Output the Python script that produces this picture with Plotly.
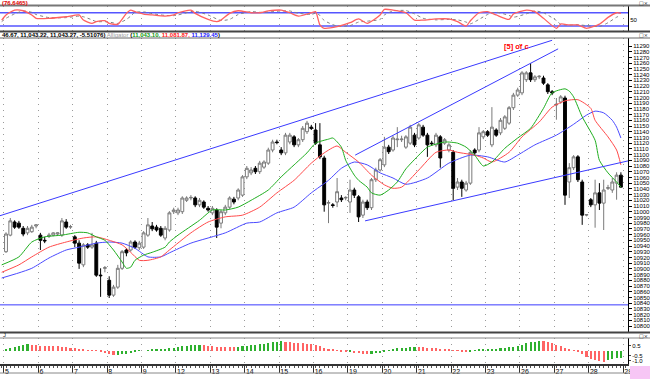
import plotly.graph_objects as go

# ---------------- data ----------------
bars = list(range(144))  # hourly bars, 8 per trading day
day_labels = ['5', '6', '7', '8', '9', '12', '13', '14', '15', '16',
              '19', '20', '21', '22', '23', '26', '27', '28', '29']
bars_per_day = 8

open_ = [10930,10959,10982,10980,10971,10963,10965,10975,
         10959,10950,10957,10959,10961,10959,10982,10973,
         10956,10945,10907,10942,10938,10945,10889,10901,
         10880,10854,10868,10901,10933,10933,10947,10937,
         10938,10959,10975,10973,10971,10954,10968,11000,
         10998,11000,11020,11024,11024,11012,11017,11006,
         10998,11003,10980,10998,11008,11022,11024,11029,
         11061,11068,11076,11070,11078,11085,11108,11122,
         11108,11103,11122,11131,11117,11126,11140,11148,
         11143,11117,11094,11015,11012,11017,11024,11024,
         11017,11038,11026,10994,11017,11007,11056,11073,
         11082,11113,11108,11126,11126,11113,11120,11134,
         11129,11148,11134,11120,11117,11131,11120,11108,
         11104,11043,11052,11038,11050,11108,11108,11131,
         11140,11117,11143,11138,11146,11155,11182,11204,
         11208,11231,11243,11231,11236,11234,11222,11210,
         11187,11192,11199,11052,11077,11096,11052,10994,
         11021,11012,11033,11015,11041,11038,11050,11064]
high = [10964,10989,10985,10984,10975,10975,10977,10978,
        10963,10956,10963,10964,10964,10989,10987,10977,
        10959,10950,10945,10945,10963,10949,10901,10905,
        10887,10872,10907,10933,10936,10950,10950,10949,
        10966,10989,10982,10977,10975,10975,11001,11007,
        11007,11027,11027,11029,11027,11024,11020,11010,
        11010,11006,11003,11012,11027,11026,11041,11064,
        11080,11078,11080,11089,11090,11112,11126,11126,
        11113,11138,11138,11134,11129,11150,11159,11152,
        11155,11155,11098,11020,11015,11059,11029,11027,
        11056,11042,11029,11021,11021,11059,11077,11094,
        11131,11117,11133,11148,11133,11134,11152,11138,
        11155,11152,11138,11124,11138,11134,11129,11120,
        11108,11059,11056,11054,11108,11111,11148,11143,
        11143,11183,11146,11164,11169,11185,11208,11217,
        11246,11246,11260,11239,11239,11238,11225,11213,
        11199,11204,11203,11085,11099,11099,11056,10996,
        11024,11056,11050,11056,11047,11059,11069,11069]
low = [10928,10957,10970,10970,10957,10959,10963,10971,
       10933,10945,10954,10957,10959,10956,10970,10970,
       10938,10900,10903,10935,10935,10886,10851,10894,
       10849,10851,10865,10898,10922,10930,10935,10933,
       10935,10956,10966,10965,10956,10950,10965,10996,
       10994,10996,11017,11020,11008,11008,11005,11000,
       10994,10954,10971,10994,11005,11013,11020,11026,
       11057,11064,11066,11066,11075,11082,11104,11118,
       11099,11099,11118,11113,11113,11122,11136,11143,
       11117,11092,11000,10980,11007,11008,11017,11020,
       10998,11024,10982,10989,11003,11003,11052,11070,
       11078,11101,11105,11113,11122,11110,11117,11113,
       11126,11131,11096,11115,11113,11077,11117,11104,
       11020,11038,11026,11035,11047,11099,11104,11127,
       11131,11113,11131,11134,11143,11152,11178,11201,
       11204,11227,11227,11227,11232,11222,11206,11204,
       11161,11189,11012,11024,11073,11052,10977,10992,
       11008,10972,11003,10968,11038,11033,11021,11047]
close = [10961,10984,10973,10973,10961,10971,10973,10977,
         10950,10949,10959,10963,10963,10984,10973,10974,
         10945,10910,10942,10938,10942,10889,10888,10902,
         10854,10868,10901,10930,10928,10947,10938,10945,
         10963,10977,10970,10968,10959,10971,10998,11003,
         11003,11024,11024,11025,11012,11020,11008,11003,
         11006,10973,11000,11008,11024,11017,11038,11061,
         11076,11073,11070,11085,11087,11108,11122,11121,
         11103,11134,11134,11117,11126,11146,11155,11146,
         11120,11096,11012,11016,11011,11035,11021,11025,
         11038,11029,10991,11017,11007,11056,11073,11091,
         11113,11105,11129,11127,11127,11131,11148,11117,
         11152,11134,11117,11119,11134,11094,11126,11117,
         11041,11052,11041,11050,11104,11103,11138,11140,
         11134,11148,11134,11160,11166,11182,11204,11213,
         11243,11243,11231,11236,11237,11225,11210,11208,
         11188,11201,11029,11077,11096,11056,10994,10995,
         11012,11033,11015,11038,11042,11052,11064,11043]

# Alligator lines (lips / teeth / jaw), read at sample bars
lips_x = [-1,3,6,9,13,17,19,21,23,25,27,28,29,30,32,34,37,38,40,45,48,51,54,57,61,64,67,70,72,75,
          76,78,79,81,82,84,85,87,89,91,93,96,98,102,105,107,109,111,113,116,119,122,125,127,130,131,
          132,134,137,138,140,142,143]
lips_y = [10907,10921,10947,10956,10959,10964,10963,10956,10950,10933,10912,10901,10903,10915,10924,
          10929,10938,10947,10959,10985,11003,11003,11008,11020,11038,11061,11082,11103,11120,11127,
          11129,11113,11090,11064,11055,11043,11033,11029,11038,11052,11075,11099,11113,11122,11120,
          11113,11099,11080,11087,11111,11129,11146,11181,11208,11215,11211,11201,11166,11125,11090,
          11068,11052,11043]
teeth_x = [-1,3,6,10,14,18,21,24,27,29,31,33,36,38,43,47,51,55,59,63,67,71,74,77,79,82,85,88,90,92,
           96,100,103,105,109,111,113,117,120,124,127,130,133,136,137,140,142,143]
teeth_y = [10894,10907,10921,10938,10947,10954,10956,10950,10942,10929,10915,10915,10921,10933,10963,
           10982,10991,10994,11008,11033,11055,11085,11103,11115,11104,11087,11064,11047,11041,11043,
           11073,11104,11108,11104,11099,11094,11087,11104,11131,11157,11183,11194,11196,11181,11160,
           11131,11108,11082]
jaw_x = [-1,3,6,10,14,17,21,24,27,30,33,36,38,43,51,56,59,63,67,71,75,78,81,84,87,90,93,98,103,108,
         112,116,119,123,128,132,135,137,139,141,142,143]
jaw_y = [10884,10893,10901,10919,10933,10938,10945,10947,10945,10936,10921,10921,10928,10945,10963,
         10980,10982,10998,11008,11033,11055,11076,11087,11082,11068,11059,11048,11059,11085,11099,
         11096,11087,11099,11117,11134,11153,11169,11176,11173,11160,11148,11129]

# hand-drawn trend lines (bar, price) end points
trend_long_x = [-1.4, 127.0]
trend_long_y = [10993, 11300]
channel_top_x = [81.2, 128.4]
channel_top_y = [11099, 11285]
channel_bot_x = [83.5, 144.7]
channel_bot_y = [10984, 11089]
support_level = 10837

# oscillator (top panel)
osc_x = [-1,0,2,4,6,7,10,14,17,18,20,21,23,24,26,28,29,30,32,34,37,39,40,43,44,47,49,50,52,54,
         57,59,61,64,66,68,71,72,73,74,77,80,82,84,87,88,90,93,95,97,100,103,105,107,108,110,
         112,114,117,118,121,123,125,128,129,131,133,135,138,140,142,143]
osc_main = [47,70,92,89,70,55,55,62,70,47,32,40,44,32,28,77,92,85,74,70,65,70,80,92,77,50,40,47,77,89,
            80,80,88,92,80,65,80,85,25,10,17,35,52,32,70,95,92,80,47,47,52,52,40,20,44,80,85,70,50,74,
            92,85,55,10,29,25,25,10,29,59,80,77]
osc_signal = [40,55,75,88,82,72,58,58,65,62,48,40,40,38,32,50,65,82,84,76,68,67,70,85,87,70,52,45,50,72,
              85,82,83,88,88,78,72,78,68,45,20,22,38,42,50,70,88,90,75,55,48,50,48,38,30,50,72,82,68,60,
              75,88,80,45,28,24,26,22,18,35,60,68]
osc_levels = [80, 20]

# histogram oscillator (bottom panel)
hist = [0.2,0.3,0.4,0.5,0.6,0.65,0.6,0.58,
        0.5,0.48,0.45,0.43,0.42,0.4,0.35,0.3,
        0.25,0.15,0.1,0.05,0.02,-0.05,-0.1,-0.25,
        -0.35,-0.45,-0.4,-0.35,-0.3,-0.2,-0.1,-0.05,
        0.0,0.05,0.08,0.12,0.15,0.2,0.25,0.3,
        0.4,0.45,0.5,0.52,0.55,0.56,0.55,0.5,
        0.45,0.4,0.38,0.36,0.35,0.33,0.38,0.45,
        0.5,0.55,0.6,0.65,0.7,0.75,0.82,0.88,
        0.92,0.9,0.85,0.8,0.78,0.72,0.68,0.62,
        0.58,0.45,0.3,0.2,0.1,-0.05,-0.1,-0.15,
        -0.1,-0.2,-0.25,-0.3,-0.35,-0.3,-0.25,-0.2,
        -0.1,0.05,0.2,0.22,0.25,0.28,0.32,0.35,
        0.34,0.33,0.3,0.28,0.25,0.2,0.15,0.1,
        0.05,-0.05,-0.1,-0.15,-0.1,0.03,0.06,0.1,
        0.13,0.17,0.2,0.25,0.3,0.35,0.4,0.45,
        0.6,0.75,0.85,0.9,0.95,0.92,0.85,0.75,
        0.55,0.45,0.3,0.1,-0.05,-0.1,-0.35,-0.6,
        -0.85,-0.95,-1.05,-1.1,-0.95,-0.85,-0.75,-0.7]
hist_ticks = [0.5, -0.5, -1.0]
price_ticks = list(range(10800, 11300, 10))

# ---------------- layout geometry (pixels) ----------------
W, H = 650, 379
PW = 628            # plot-area width
def py(p):          # pixel row -> paper y
    return 1 - p / H
def pxp(p):         # pixel col -> paper x
    return p / PW

X_RANGE = [-6 / 4.3, (PW - 6) / 4.3]
day_ticks = [-0.5 + bars_per_day * k for k in range(len(day_labels))]

FONT = "Liberation Sans Narrow, Liberation Sans, Arial"
GREEN, RED, BLUE = '#1fae1f', '#ff4a4a', '#4a4aff'

fig = go.Figure()

fig.add_trace(go.Candlestick(
    x=bars, open=open_, high=high, low=low, close=close,
    increasing=dict(line=dict(color='#7a7a7a', width=1), fillcolor='#ffffff'),
    decreasing=dict(line=dict(color='#000000', width=1), fillcolor='#000000'),
    whiskerwidth=0, xaxis='x', yaxis='y', showlegend=False, hoverinfo='skip'))

for xs, ys, col in [(jaw_x, jaw_y, BLUE), (teeth_x, teeth_y, RED), (lips_x, lips_y, GREEN)]:
    fig.add_trace(go.Scatter(x=xs, y=ys, mode='lines', xaxis='x', yaxis='y',
                             line=dict(color=col, width=1, shape='spline', smoothing=0.6),
                             showlegend=False, hoverinfo='skip'))

for xs, ys in [(trend_long_x, trend_long_y), (channel_top_x, channel_top_y),
               (channel_bot_x, channel_bot_y), (X_RANGE, [support_level, support_level])]:
    fig.add_trace(go.Scatter(x=xs, y=ys, mode='lines', xaxis='x', yaxis='y',
                             line=dict(color='#3a3aff', width=1),
                             showlegend=False, hoverinfo='skip'))

# oscillator
for lv in osc_levels:
    fig.add_trace(go.Scatter(x=X_RANGE, y=[lv, lv], mode='lines', xaxis='x', yaxis='y2',
                             line=dict(color='#5555ff', width=1.5), showlegend=False, hoverinfo='skip'))
fig.add_trace(go.Scatter(x=osc_x, y=osc_signal, mode='lines', xaxis='x', yaxis='y2',
                         line=dict(color='#808080', width=1, dash='dot', shape='spline', smoothing=0.6),
                         showlegend=False, hoverinfo='skip'))
fig.add_trace(go.Scatter(x=osc_x, y=osc_main, mode='lines', xaxis='x', yaxis='y2',
                         line=dict(color='#ff6060', width=1.3, shape='spline', smoothing=0.6),
                         showlegend=False, hoverinfo='skip'))

# histogram
hist_colors = ['#2fb02f' if (i == 0 or v > hist[i - 1]) else '#ff6464' for i, v in enumerate(hist)]
fig.add_trace(go.Bar(x=bars, y=hist, marker=dict(color=hist_colors, line=dict(width=0)),
                     width=0.5, xaxis='x', yaxis='y3', showlegend=False, hoverinfo='skip'))

small = dict(family=FONT, size=6, color='#000000')

fig.update_layout(
    width=W, height=H, autosize=False,
    margin=dict(l=0, r=W - PW, t=0, b=0),
    paper_bgcolor='white', plot_bgcolor='white',
    bargap=0, boxgap=0.05,
    xaxis=dict(range=X_RANGE, anchor='y3', rangeslider=dict(visible=False),
               tickmode='array', tickvals=day_ticks, ticktext=day_labels,
               ticks='outside', ticklen=7, tickcolor='#333333', tickwidth=1,
               ticklabelposition='outside right',
               tickfont=dict(family=FONT, size=7, color='#000000'),
               showgrid=True, gridcolor='#9a9a9a', griddash='1px,5px', gridwidth=1,
               minor=dict(dtick=1, tick0=0, ticks='outside', ticklen=2, tickcolor='#555555',
                          showgrid=False),
               showline=True, linecolor='#333333', linewidth=1.5, zeroline=False),
    yaxis=dict(domain=[py(333), py(38)], range=[11370.5 - 1.75 * 333, 11370.5 - 1.75 * 38],
               anchor='x', side='right', tickmode='array', tickvals=price_ticks,
               ticktext=[str(v) for v in price_ticks], ticks='outside', ticklen=3,
               tickcolor='#000000', tickfont=small, showgrid=False, zeroline=False,
               showline=True, linecolor='#000000', linewidth=1),
    yaxis2=dict(domain=[py(31.5), py(6)], range=[-4.5, 110.4], anchor='x', side='right',
                tickmode='array', tickvals=[50], ticktext=['50'], ticks='', tickfont=small,
                showgrid=False, zeroline=False, showline=True, linecolor='#000000'),
    yaxis3=dict(domain=[py(364), py(338)], range=[-1.35, 1.25], anchor='x', side='right',
                tickmode='array', tickvals=hist_ticks, ticktext=['0.5', '-0.5', '-1.0'],
                ticks='outside', ticklen=2, tickfont=small, showgrid=False, zeroline=False,
                showline=True, linecolor='#000000'),
)

# panel separators
shapes = []
for yy, col, wd in [(5.5, '#777777', 2), (31.5, '#444444', 2), (38, '#666666', 1),
                    (332.5, '#444444', 2), (338, '#888888', 1), (373, '#888888', 1)]:
    shapes.append(dict(type='line', xref='paper', yref='paper', x0=0, x1=W / PW, y0=py(yy), y1=py(yy),
                       line=dict(color=col, width=wd)))
shapes.append(dict(type='rect', xref='paper', yref='paper', x0=pxp(630), x1=W / PW, y0=0, y1=py(366),
                   fillcolor='#f7c6f5', line=dict(width=0)))
fig.update_layout(shapes=shapes)

ann = [
    dict(text='<b>(76.6465)</b>', x=0, y=py(2.6), xanchor='left', yanchor='middle',
         font=dict(family=FONT, size=6, color='#e00000')),
    dict(text="<b>46.67, 11,043.22, 11,043.27, -5.51076)</b> <span style='color:#9a9a9a'>Alligator</span> "
              "<b>(<span style='color:#139a13'>11,043.10,</span> <span style='color:#ff2020'>11,081.87,</span> "
              "<span style='color:#2020ff'>11,129.45</span>)</b>",
         x=0, y=py(35), xanchor='left', yanchor='middle', font=dict(family=FONT, size=6, color='#000000')),
    dict(text='J', x=pxp(1), y=py(335), xanchor='left', yanchor='middle',
         font=dict(family=FONT, size=6, color='#333333')),
]
for yy in (2.8, 35, 335.5):
    ann.append(dict(text='□×', x=W / PW, y=py(yy), xanchor='right', yanchor='middle',
                    font=dict(family='DejaVu Sans', size=5, color='#222222')))
for a in ann:
    a.update(xref='paper', yref='paper', showarrow=False)
ann.append(dict(text='<b>[5] of c</b>', x=118.8, y=11289, xref='x', yref='y', showarrow=False,
                font=dict(family=FONT, size=7.5, color='#ff0000')))
fig.update_layout(annotations=ann)

fig.write_html("out.html", config=dict(displayModeBar=False),
               post_script="document.body.style.margin='0';document.body.style.overflow='hidden';")
